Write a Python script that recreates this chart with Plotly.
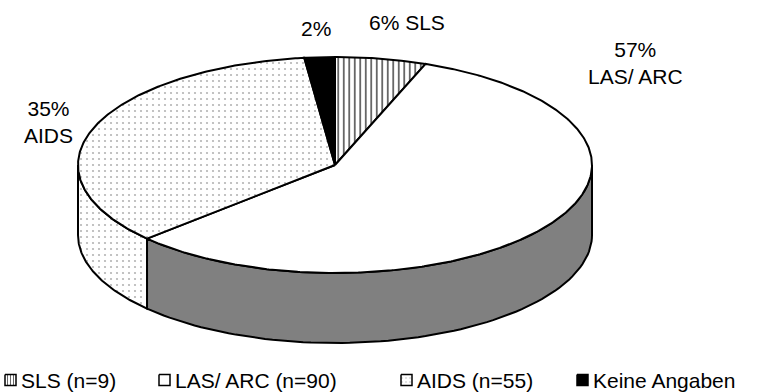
import numpy as np
import plotly.graph_objects as go

# Patient groups and counts
categories = ["SLS", "LAS/ ARC", "AIDS", "Keine Angaben"]
counts = [9, 90, 55, 3]
legend_labels = ["SLS (n=9)", "LAS/ ARC (n=90)", "AIDS (n=55)", "Keine Angaben"]

W, H = 757, 392
cx, cy = 335, 165      # centre of the top ellipse (pixels)
rx, ry = 257, 108      # ellipse radii
depth = 70             # thickness of the disc

FONT = "Liberation Sans, Arial, sans-serif"
FS = 21

# per-slice styling: top fill, wall fill, pattern
styles = [
    dict(top="white", wall="white", pattern=dict(shape="|", size=5.5, solidity=0.2, fgcolor="black", bgcolor="white", fillmode="replace")),
    dict(top="white", wall="#808080", pattern=None),
    dict(top="white", wall="white", pattern=dict(shape=".", size=6, solidity=0.1, fgcolor="#b4b4b4", bgcolor="white", fillmode="replace")),
    dict(top="black", wall="black", pattern=None),
]

total = sum(counts)
fracs = [c / total for c in counts]
cum = np.concatenate([[0], np.cumsum(fracs)]) * 360.0  # clockwise from 12 o'clock


def pt(theta_deg, dy=0.0):
    t = np.radians(theta_deg)
    return cx + rx * np.sin(t), cy - ry * np.cos(t) + dy


fig = go.Figure()

# side walls (front half only: 90..270 degrees)
for i in range(len(counts)):
    a, b = max(cum[i], 90), min(cum[i + 1], 270)
    if b <= a:
        continue
    th = np.linspace(a, b, 80)
    xt, yt = pt(th)
    xb, yb = pt(th[::-1], depth)
    xs = np.concatenate([xt, xb, xt[:1]])
    ys = np.concatenate([yt, yb, yt[:1]])
    st = styles[i]
    kw = dict(fillpattern=st["pattern"]) if st["pattern"] else {}
    fig.add_trace(go.Scatter(x=xs, y=ys, mode="lines", fill="toself",
                             fillcolor=st["wall"], line=dict(color="black", width=2),
                             hoverinfo="skip", showlegend=False, **kw))

# top faces
for i in range(len(counts)):
    th = np.linspace(cum[i], cum[i + 1], max(int((cum[i + 1] - cum[i]) * 2), 8))
    xa, ya = pt(th)
    xs = np.concatenate([[cx], xa, [cx]])
    ys = np.concatenate([[cy], ya, [cy]])
    st = styles[i]
    kw = dict(fillpattern=st["pattern"]) if st["pattern"] else {}
    fig.add_trace(go.Scatter(x=xs, y=ys, mode="lines", fill="toself",
                             fillcolor=st["top"], line=dict(color="black", width=2),
                             hoverinfo="skip", showlegend=False, **kw))

# slice labels
pct = [round(f * 100) for f in fracs]
label_pos = [(407, 22), (635, 63), (48, 122), (316, 28)]
label_txt = [f"{pct[0]}% {categories[0]}", f"{pct[1]}%<br>{categories[1]}",
             f"{pct[2]}%<br>{categories[2]}", f"{pct[3]}%"]
for (x, y), t in zip(label_pos, label_txt):
    fig.add_annotation(x=x, y=y, text=t, showarrow=False, xref="x", yref="y",
                       font=dict(family=FONT, size=FS, color="black"), align="center")

# legend
leg_box_x = [5, 159, 401, 577]
leg_y = 380
for i, (bx, txt) in enumerate(zip(leg_box_x, legend_labels)):
    st = styles[i]
    sq = 11
    xs = [bx, bx + sq, bx + sq, bx, bx]
    ys = [leg_y - sq / 2, leg_y - sq / 2, leg_y + sq / 2, leg_y + sq / 2, leg_y - sq / 2]
    kw = {}
    if st["pattern"]:
        p = dict(st["pattern"])
        p["size"] = 3 if p["shape"] == "|" else 4
        kw = dict(fillpattern=p)
    fig.add_trace(go.Scatter(x=xs, y=ys, mode="lines", fill="toself",
                             fillcolor="black" if i == 3 else "white",
                             line=dict(color="black", width=1.5),
                             hoverinfo="skip", showlegend=False, **kw))
    fig.add_annotation(x=bx + sq + 3, y=leg_y, text=txt, showarrow=False,
                       xref="x", yref="y", xanchor="left",
                       font=dict(family=FONT, size=FS, color="black"))

fig.update_layout(
    width=W, height=H, margin=dict(l=0, r=0, t=0, b=0),
    paper_bgcolor="white", plot_bgcolor="white", showlegend=False,
    xaxis=dict(range=[0, W], visible=False, fixedrange=True),
    yaxis=dict(range=[H, 0], visible=False, fixedrange=True),
)

fig.write_html("out.html")
